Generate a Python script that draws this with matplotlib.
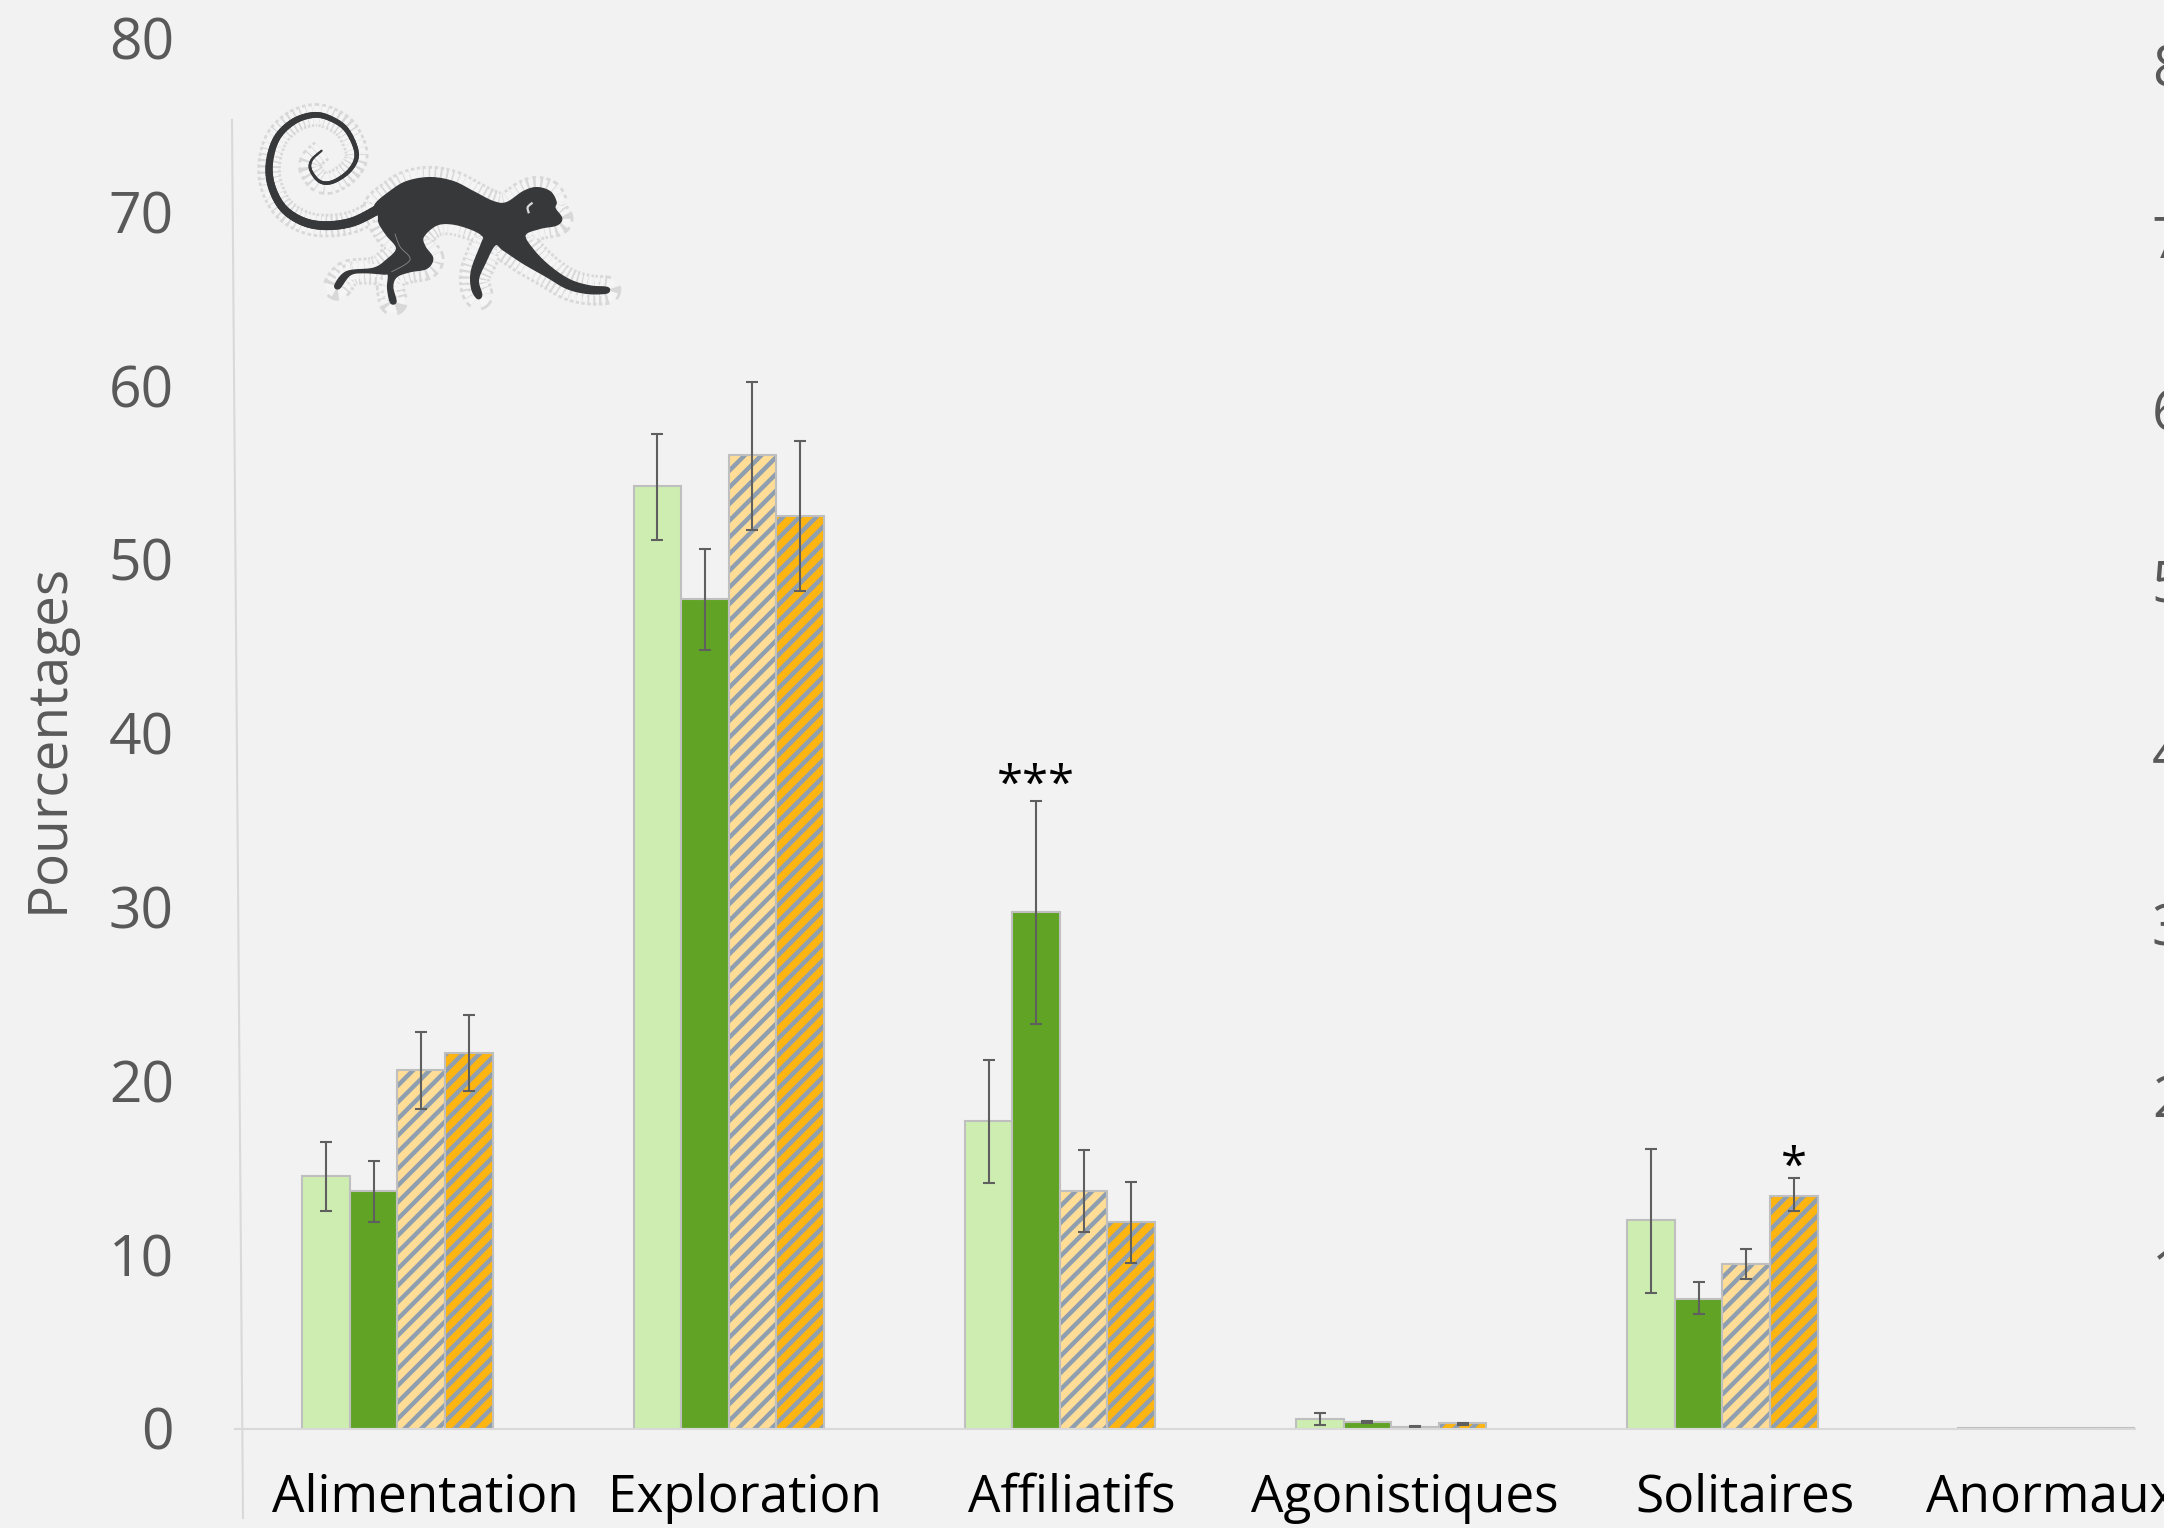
import numpy as np
import matplotlib
matplotlib.use("Agg")
from matplotlib import pyplot as plt
from matplotlib.collections import LineCollection
from matplotlib.lines import Line2D
from matplotlib.patches import Polygon

# values
categories = ["Alimentation", "Exploration", "Affiliatifs", "Agonistiques", "Solitaires", "Anormaux"]
label_pos = [0.083, 1.048, 2.037, 3.042, 4.067, 4.994]

light_green = [14.5, 54.2, 17.7, 0.57, 12.0, 0.02]
dark_green = [13.65, 47.7, 29.7, 0.35, 7.45, 0.02]
light_orange = [20.6, 56.0, 13.65, 0.06, 9.45, 0.02]
dark_orange = [21.6, 52.5, 11.9, 0.29, 13.4, 0.02]

# no error bars to see on Anormaux
light_green_hi = [16.5, 57.2, 21.2, 0.92, 16.1, np.nan]
light_green_lo = [12.5, 51.1, 14.1, 0.23, 7.8, np.nan]
dark_green_hi = [15.4, 50.6, 36.1, 0.46, 8.4, np.nan]
dark_green_lo = [11.9, 44.8, 23.3, 0.31, 6.6, np.nan]
light_orange_hi = [22.8, 60.2, 16.0, 0.12, 10.3, np.nan]
light_orange_lo = [18.4, 51.7, 11.3, 0.04, 8.6, np.nan]
dark_orange_hi = [23.8, 56.8, 14.2, 0.33, 14.4, np.nan]
dark_orange_lo = [19.4, 48.2, 9.5, 0.21, 12.5, np.nan]

y_ticks = [0, 10, 20, 30, 40, 50, 60, 70, 80]
next_panel_ticks = [10, 20, 30, 40, 50, 60, 70, 80]

# monkey silhouette, in pixels of the picture crop (3x)
monkey_body = [
    (405, 375), (450, 335), (500, 305), (570, 293), (640, 305), (700, 335), (760, 365), (800, 368),
    (850, 335), (890, 323), (930, 335), (948, 365), (945, 385), (965, 415), (950, 435), (900, 445),
    (855, 465), (880, 510), (930, 560), (990, 600), (1050, 618), (1100, 622), (1108, 632), (1095, 640),
    (1040, 640), (980, 625), (920, 590), (850, 550), (790, 510), (765, 495), (735, 550), (715, 600),
    (725, 645), (712, 655), (695, 625), (695, 570), (725, 490), (730, 470), (700, 450), (640, 432),
    (590, 435), (550, 470), (555, 500), (578, 535), (560, 565), (510, 575), (470, 590), (458, 620),
    (468, 665), (452, 668), (443, 625), (445, 585), (430, 582), (370, 578), (330, 585), (298, 625),
    (285, 615), (320, 575), (400, 565), (440, 540), (470, 505), (440, 465), (418, 430), (415, 405),
]
monkey_tail = [
    (245, 212), (215, 240), (212, 270), (240, 305), (280, 305), (330, 270), (350, 220), (320, 150),
    (270, 115), (220, 105), (160, 125), (110, 175), (88, 250), (95, 320), (130, 385), (190, 425),
    (260, 437), (340, 425), (420, 385),
]
monkey_cut = [(465, 462), (480, 500), (510, 540), (450, 578)]

BG = "#F2F2F2"
W, H = 2164, 1528


def smooth(points, closed=False, steps=8):
    # catmull-rom through the points
    p = np.array(points, dtype=float)
    if closed:
        p = np.vstack([p[-1], p, p[0], p[1]])
    else:
        p = np.vstack([p[0], p, p[-1]])
    out = []
    for i in range(1, len(p) - 2):
        for t in np.linspace(0, 1, steps, endpoint=False):
            out.append(0.5 * (2 * p[i] + (p[i + 1] - p[i - 1]) * t
                              + (2 * p[i - 1] - 5 * p[i] + 4 * p[i + 1] - p[i + 2]) * t ** 2
                              + (3 * p[i] - p[i - 1] - 3 * p[i + 1] + p[i + 2]) * t ** 3))
    return np.array(out)


def to_fig(xy):
    # crop pixels -> figure fraction
    xy = np.asarray(xy, dtype=float)
    return np.column_stack([(240 + xy[:, 0] / 3) / W, 1 - (80 + xy[:, 1] / 3) / H])


plt.rcParams["font.family"] = ["Open Sans", "DejaVu Sans"]
plt.rcParams["hatch.linewidth"] = 3.2

fig = plt.figure(figsize=(W / 100, H / 100), dpi=100, facecolor=BG)
ax = fig.add_axes([235 / W, 1 - 1428.5 / H, 1900 / W, 1390.5 / H], facecolor="none")
ax.set_xlim(-0.4906, 5.246)
ax.set_ylim(0, 80)

x = np.arange(len(categories))
w = 0.1437
series = [
    (light_green, light_green_lo, light_green_hi, "#CDEDB1", None),
    (dark_green, dark_green_lo, dark_green_hi, "#60A325", None),
    (light_orange, light_orange_lo, light_orange_hi, "#FFDD97", "#8F9FB0"),
    (dark_orange, dark_orange_lo, dark_orange_hi, "#FFB511", "#8F9FB0"),
]
for i, (vals, lo, hi, color, hatch_color) in enumerate(series):
    xs = x + (i - 1.5) * w
    vals = np.array(vals)
    if hatch_color:
        ax.bar(xs, vals, w, color=color, edgecolor=hatch_color, hatch="//", linewidth=0)
        ax.bar(xs, vals, w, fill=False, edgecolor="#BFBFBF", linewidth=1.5)
    else:
        ax.bar(xs, vals, w, color=color, edgecolor="#BFBFBF", linewidth=1.5)
    ax.errorbar(xs, vals, yerr=[vals - np.array(lo), np.array(hi) - vals], fmt="none",
                ecolor="#5F5F5F", elinewidth=1.5, capsize=4.3, capthick=1.5)

# significance stars
ax.text(2 - 0.5 * w, 35.6, "***", ha="center", va="bottom", fontsize=34, color="black",
        linespacing=1, clip_on=False)
ax.text(4 + 1.5 * w, 13.6, "*", ha="center", va="bottom", fontsize=34, color="black", clip_on=False)

for s in ["top", "right", "left"]:
    ax.spines[s].set_visible(False)
ax.spines["bottom"].set_color("#D9D9D9")
ax.spines["bottom"].set_linewidth(1.5)

ax.set_yticks(y_ticks)
ax.tick_params(axis="y", length=0, pad=44, labelsize=41, labelcolor="#595959")
ax.set_xticks(label_pos, categories)
ax.tick_params(axis="x", length=0, pad=32, labelsize=37, labelcolor="black")
ax.set_ylabel("Pourcentages", fontsize=39.5, color="#595959")
ax.yaxis.set_label_coords((76 - 235) / 1900, (1428.5 - 738) / 1390.5)

# the slanted y axis line
fig.add_artist(Line2D([232 / W, 243 / W], [1 - 120 / H, 1 - 1518 / H], color="#D9D9D9", lw=1.5))

# y axis of the next panel, cut by the edge of the picture
ax2 = fig.add_axes([2278 / W, 1 - 1440 / H, 500 / W, 1375 / H], facecolor="none")
ax2.set_ylim(0, 80)
ax2.set_yticks(next_panel_ticks)
ax2.tick_params(axis="y", length=0, pad=44, labelsize=41, labelcolor="#595959")
ax2.set_xticks([])
for s in ax2.spines.values():
    s.set_visible(False)

# monkey: blotchy halo first, then the dark shape
body = to_fig(smooth(monkey_body, closed=True))
tail = to_fig(smooth(monkey_tail))
outline = np.vstack([body, body[:1]])
for lw, color, dash in [(17, "#D8D8D8", (0.12, 0.1)), (13, "#F5F5F5", (0.2, 0.12))]:
    fig.add_artist(Line2D(outline[:, 0], outline[:, 1], color=color, lw=lw, dashes=dash, zorder=3))
    fig.add_artist(Line2D(tail[:, 0], tail[:, 1], color=color, lw=lw, dashes=dash, zorder=3))

dark = "#37383A"
fig.add_artist(Polygon(body, closed=True, transform=fig.transFigure, facecolor=dark, edgecolor=dark,
                       lw=1, zorder=4))
segs = np.stack([tail[:-1], tail[1:]], axis=1)
widths = np.linspace(1.5, 7, len(segs))
fig.add_artist(LineCollection(segs, linewidths=widths, colors=dark, capstyle="round",
                              transform=fig.transFigure, zorder=4))
cut = to_fig(smooth(monkey_cut))
fig.add_artist(Line2D(cut[:, 0], cut[:, 1], color="#8A8A8A", lw=0.6, zorder=5))
eye = to_fig(smooth([(875, 370), (863, 382), (866, 398)]))
fig.add_artist(Line2D(eye[:, 0], eye[:, 1], color="#D8D8D8", lw=1.6, zorder=5))

fig.savefig("out.png", dpi=100, facecolor=BG)
